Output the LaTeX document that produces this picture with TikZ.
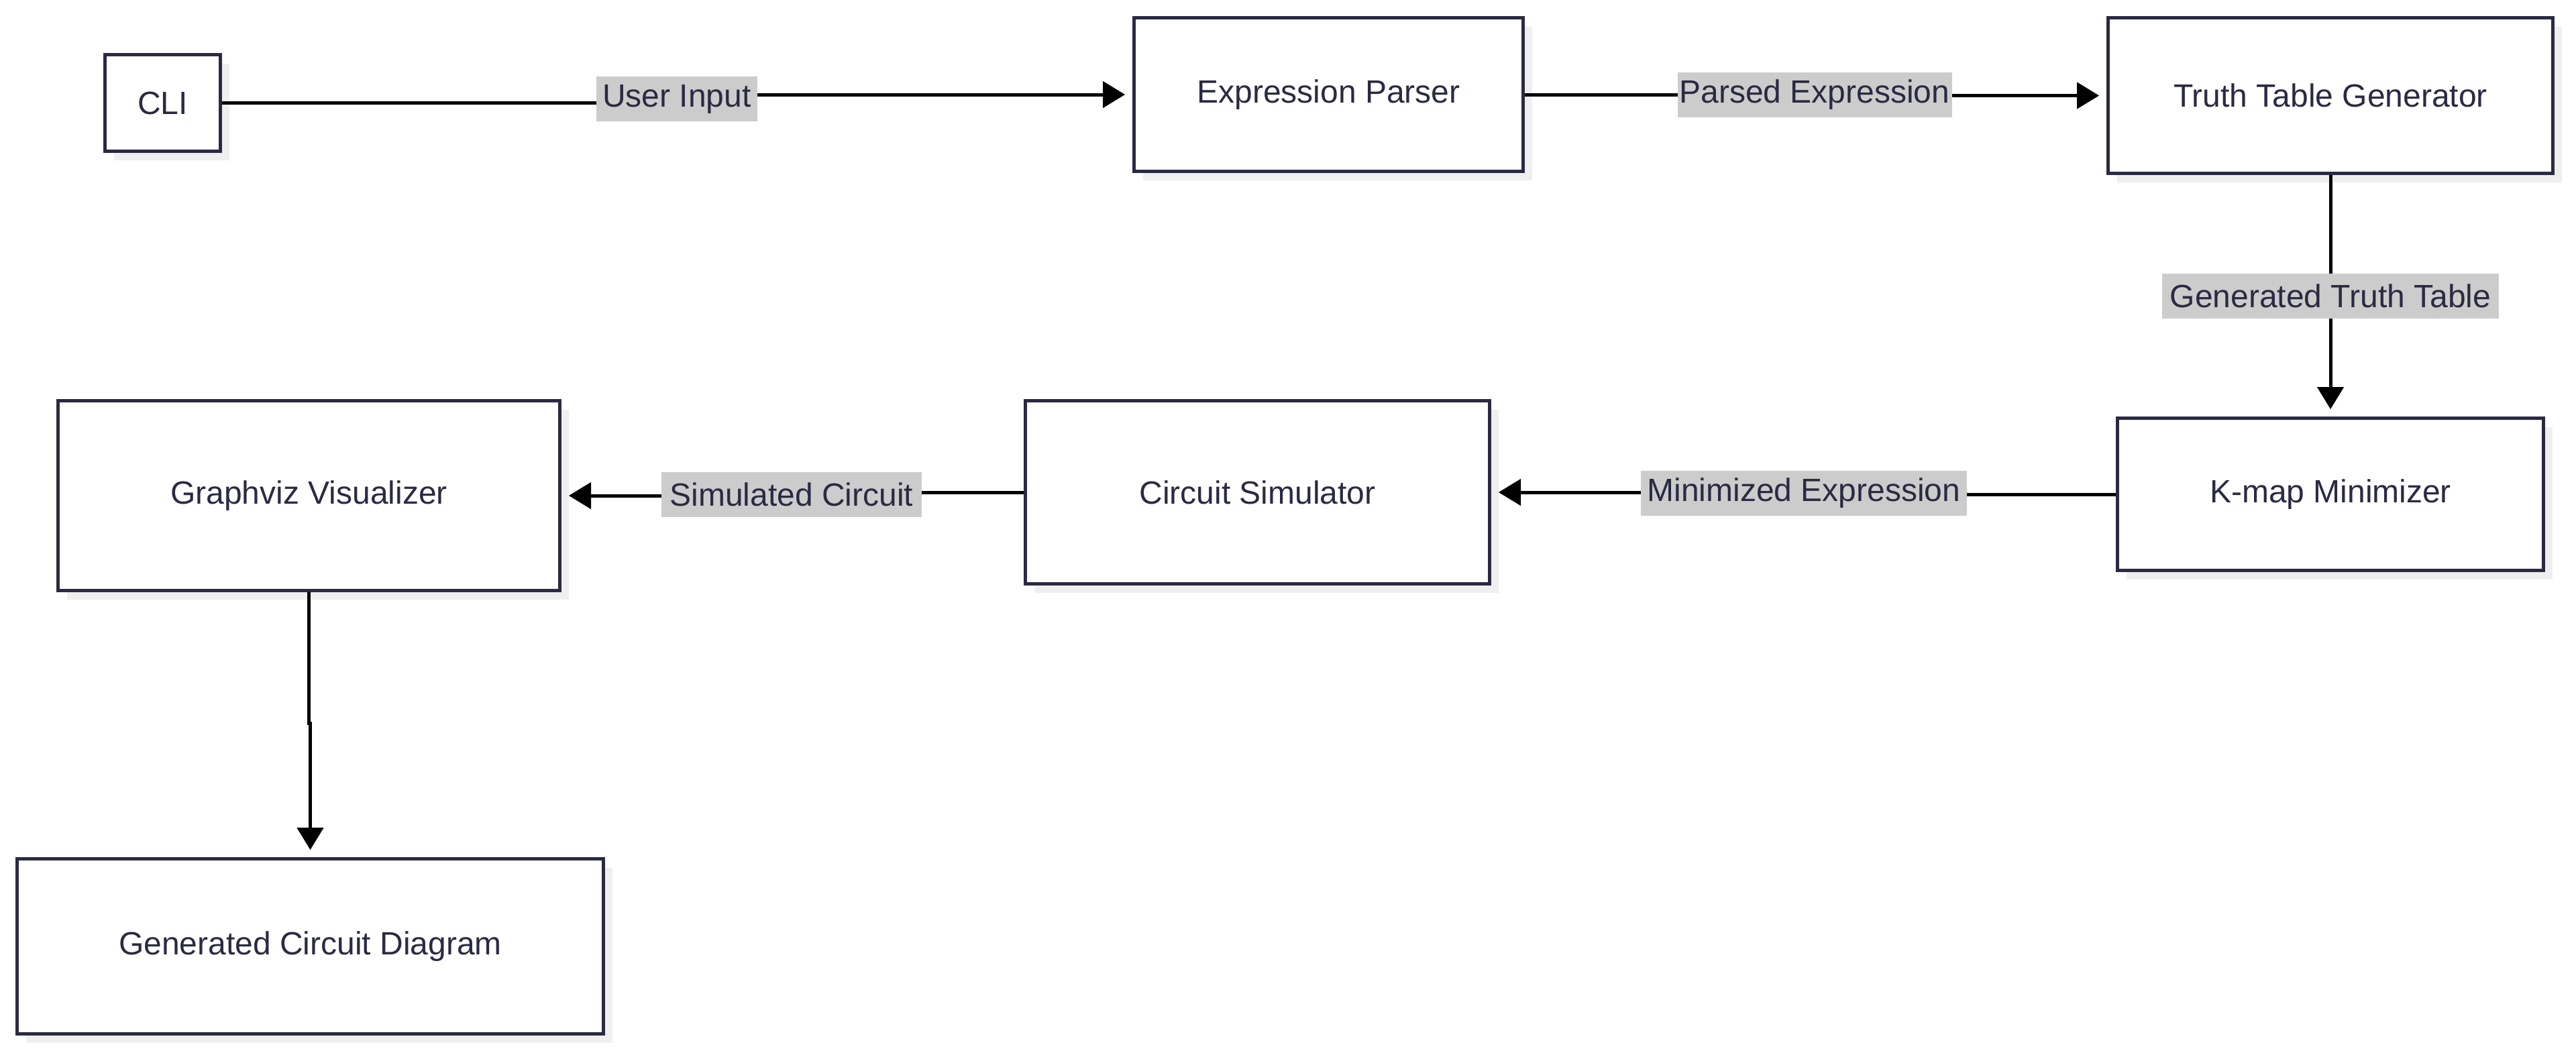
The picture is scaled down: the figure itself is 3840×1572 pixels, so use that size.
\documentclass[tikz,border=0pt]{standalone}
\usepackage{fontspec}
\setmainfont{Liberation Sans}
\usetikzlibrary{arrows.meta,shadows}
\definecolor{bordercol}{HTML}{2A2A42}
\definecolor{textcol}{HTML}{2A2A42}
\definecolor{lblcol}{HTML}{CCCCCC}
\definecolor{shadowcol}{HTML}{EFEFEF}
\newcommand\nodefont{\fontsize{48}{58}\selectfont}
\tikzset{
  box/.style={rectangle, draw=bordercol, line width=5pt, fill=white, text=textcol,
    font=\nodefont, inner sep=0pt,
    drop shadow={shadow xshift=13pt, shadow yshift=-13pt, fill=shadowcol, opacity=1}},
  lbl/.style={rectangle, fill=lblcol, text=textcol, font=\nodefont, inner xsep=2pt,
    inner ysep=0pt, minimum height=67pt},
  arr/.style={draw=black, line width=5pt,
    -{Triangle[length=33pt,width=40pt,line width=1pt]}, shorten >=11pt},
}
\begin{document}
\begin{tikzpicture}[x=1pt,y=-1pt]
\useasboundingbox (0,0) rectangle (3840,1572);
% nodes
\node[box, minimum width=172pt, minimum height=144pt] (cli) at (242.5,153.5) {CLI};
\node[box, minimum width=580pt, minimum height=229pt] (ep) at (1980.5,141) {Expression Parser};
\node[box, minimum width=663pt, minimum height=232pt] (ttg) at (3474,142.5) {Truth Table Generator};
\node[box, minimum width=635pt, minimum height=227pt] (km) at (3474,737) {K-map Minimizer};
\node[box, minimum width=692pt, minimum height=273pt] (cs) at (1874.5,734) {Circuit Simulator};
\node[box, minimum width=748pt, minimum height=283pt] (gv) at (460.5,739) {Graphviz Visualizer};
\node[box, minimum width=874pt, minimum height=261pt] (gcd) at (462.5,1411) {Generated Circuit Diagram};
% label positions
\coordinate (uiP) at (1009,147.5);
\coordinate (peP) at (2705,141.5);
\coordinate (gttP) at (3474,441.5);
\coordinate (meP) at (2689,735.5);
\coordinate (scP) at (1180,737);
% edges
\draw[arr] (cli.east) -- (cli.east -| uiP) -- (uiP |- ep.west) -- (ep.west);
\draw[arr] (ep.east) -- (ep.east -| peP) -- (peP |- ttg.west) -- (ttg.west);
\draw[arr] (ttg.south) -- (km.north);
\draw[arr] (km.west) -- (km.west -| meP) -- (meP |- cs.east) -- (cs.east);
\draw[arr] (cs.west) -- (cs.west -| scP) -- (scP |- gv.east) -- (gv.east);
\draw[arr] (gv.south) -- ++(0,195) -| (gcd.north);
% labels
\node[lbl, minimum width=240pt] (ui) at (uiP) {User Input};
\node[lbl, minimum width=409pt] (pe) at (peP) {Parsed Expression};
\node[lbl, minimum width=502pt] (gtt) at (gttP) {Generated Truth Table};
\node[lbl, minimum width=486pt] (me) at (meP) {Minimized Expression};
\node[lbl, minimum width=388pt] (sc) at (scP) {Simulated Circuit};
\end{tikzpicture}
\end{document}
